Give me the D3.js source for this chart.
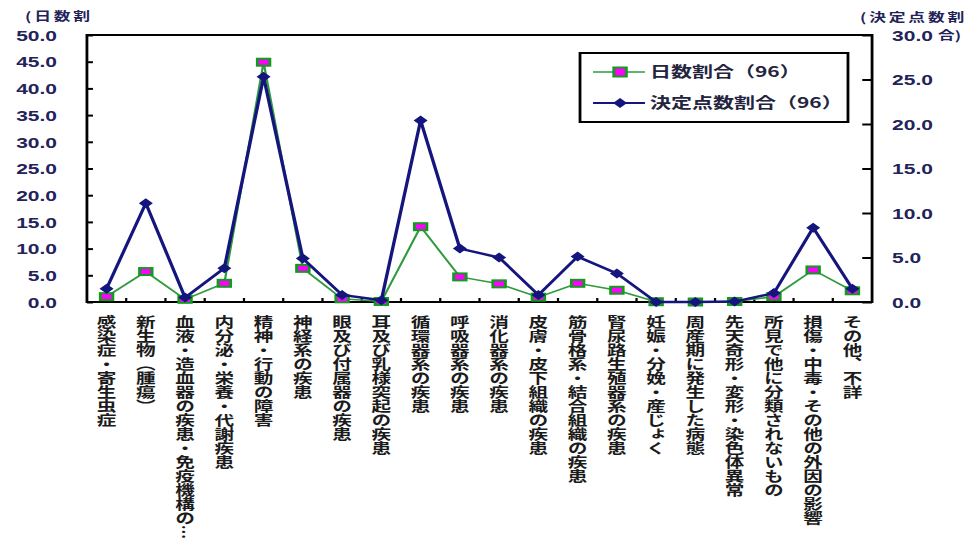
<!DOCTYPE html>
<html>
<head>
<meta charset="utf-8">
<script src="https://cdn.jsdelivr.net/npm/d3@7"></script>
<style>
  html, body { margin: 0; padding: 0; background: #fff; overflow: hidden; }
  svg { display: block; }
</style>
</head>
<body>
<svg id="chart" width="969" height="555"></svg>
<script>
// Disease categories (x axis)
const categories = [
  "感染症・寄生虫症",
  "新生物（腫瘍）",
  "血液・造血器の疾患・免疫機構の…",
  "内分泌・栄養・代謝疾患",
  "精神・行動の障害",
  "神経系の疾患",
  "眼及び付属器の疾患",
  "耳及び乳様突起の疾患",
  "循環器系の疾患",
  "呼吸器系の疾患",
  "消化器系の疾患",
  "皮膚・皮下組織の疾患",
  "筋骨格系・結合組織の疾患",
  "腎尿路生殖器系の疾患",
  "妊娠・分娩・産じょく",
  "周産期に発生した病態",
  "先天奇形・変形・染色体異常",
  "所見で他に分類されないもの",
  "損傷・中毒・その他の外因の影響",
  "その他、不詳"
];

// Share of days (left axis, %)
const dayShare = [1.0, 5.7, 0.5, 3.5, 44.9, 6.3, 0.6, 0.1, 14.1, 4.7,
                  3.4, 0.9, 3.5, 2.2, 0.05, 0.0, 0.1, 1.0, 6.0, 2.1];

// Share of assessed points (right axis, %)
const pointShare = [1.5, 11.1, 0.5, 3.8, 25.3, 4.9, 0.8, 0.2, 20.4, 6.0,
                    5.0, 0.8, 5.1, 3.2, 0.0, 0.0, 0.05, 1.0, 8.35, 1.5];

const leftTicks = [0, 5, 10, 15, 20, 25, 30, 35, 40, 45, 50];
const rightTicks = [0, 5, 10, 15, 20, 25, 30];
const seriesNames = ["日数割合（96）", "決定点数割合（96）"];
const leftTitle = "(日数割";
const rightTitle = "(決定点数割";
const rightTitleTail = "合)";

// The whole drawing is laid out in a narrower space and stretched horizontally.
const SX = 1.4;
const m = { left: 62.1, right: 622.9, top: 35, bottom: 302 };

const svg = d3.select("#chart");
svg.append("rect").attr("width", 969).attr("height", 555).attr("fill", "#fff");
const root = svg.append("g").attr("transform", `scale(${SX},1)`);

const x = d3.scaleBand().domain(categories).range([m.left, m.right]);
const cx = d => x(d) + x.bandwidth() / 2;
const yL = d3.scaleLinear().domain([0, 50]).range([m.bottom, m.top]);
const yR = d3.scaleLinear().domain([0, 30]).range([m.bottom, m.top]);

const tickColor = "#23235a";
const fmt = d3.format(".1f");

// Left axis
const gL = root.append("g").attr("transform", `translate(${m.left},0)`)
  .call(d3.axisLeft(yL).tickValues(leftTicks).tickSize(-4.3).tickFormat(fmt));
gL.select(".domain").remove();
gL.selectAll(".tick line").attr("stroke", "#000").attr("stroke-width", 2);
gL.selectAll(".tick text")
  .attr("x", -21.4).attr("dy", "0.35em")
  .attr("fill", tickColor)
  .style("font", "bold 15px 'Liberation Sans', Arial, sans-serif");

// Right axis
const gR = root.append("g").attr("transform", `translate(${m.right},0)`)
  .call(d3.axisRight(yR).tickValues(rightTicks).tickSize(-7).tickFormat(fmt));
gR.select(".domain").remove();
gR.selectAll(".tick line").attr("stroke", "#000").attr("stroke-width", 2);
gR.selectAll(".tick text")
  .attr("x", 14.3).attr("dy", "0.35em")
  .attr("fill", tickColor)
  .style("font", "bold 15px 'Liberation Sans', Arial, sans-serif");

// Category boundary ticks on the bottom axis
root.append("g").selectAll("line")
  .data(categories.slice(1))
  .join("line")
  .attr("x1", d => x(d)).attr("x2", d => x(d))
  .attr("y1", m.bottom).attr("y2", m.bottom - 4)
  .attr("stroke", "#000").attr("stroke-width", 1.6);

// Plot frame
root.append("rect")
  .attr("x", m.left).attr("y", m.top)
  .attr("width", m.right - m.left).attr("height", m.bottom - m.top)
  .attr("fill", "none").attr("stroke", "#000").attr("stroke-width", 2);

// Vertical category labels
root.append("g").selectAll("text")
  .data(categories)
  .join("text")
  .attr("x", d => cx(d))
  .attr("y", 315)
  .attr("fill", "#1b1b1b")
  .style("writing-mode", "vertical-rl")
  .style("font", "bold 14px 'Noto Sans CJK JP', sans-serif")
  .text(d => d);

// Series: share of days (green line, magenta squares)
const green = "#2f9b3c";
const navy = "#15157e";
const lineL = d3.line().x((d, i) => cx(categories[i])).y(d => yL(d));
const lineR = d3.line().x((d, i) => cx(categories[i])).y(d => yR(d));

root.append("path").datum(dayShare)
  .attr("d", lineL).attr("fill", "none")
  .attr("stroke", green).attr("stroke-width", 1.6);
root.append("g").selectAll("rect")
  .data(dayShare)
  .join("rect")
  .attr("x", (d, i) => cx(categories[i]) - 4.5)
  .attr("y", d => yL(d) - 3.5)
  .attr("width", 9).attr("height", 7)
  .attr("fill", "#ff00ff").attr("stroke", "#129a1e").attr("stroke-width", 2);

// Series: share of points (navy line, diamonds)
const diamond = d3.symbol().type(d3.symbolSquare).size(50);
root.append("path").datum(pointShare)
  .attr("d", lineR).attr("fill", "none")
  .attr("stroke", navy).attr("stroke-width", 2.4);
root.append("g").selectAll("path")
  .data(pointShare)
  .join("path")
  .attr("d", diamond)
  .attr("transform", (d, i) => `translate(${cx(categories[i])},${yR(d)}) rotate(45)`)
  .attr("fill", navy);

// Legend
const lg = root.append("g");
lg.append("rect")
  .attr("x", 414.3).attr("y", 53).attr("width", 191.4).attr("height", 69)
  .attr("fill", "#fff").attr("stroke", "#000").attr("stroke-width", 2);
const legendRows = [
  { name: seriesNames[0], y: 72, color: green },
  { name: seriesNames[1], y: 103, color: navy }
];
legendRows.forEach((r, k) => {
  lg.append("line")
    .attr("x1", 423.6).attr("x2", 460.7).attr("y1", r.y).attr("y2", r.y)
    .attr("stroke", r.color).attr("stroke-width", k === 0 ? 1.6 : 2);
  if (k === 0) {
    lg.append("rect").attr("x", 442.9 - 4.5).attr("y", r.y - 4.5)
      .attr("width", 9).attr("height", 9)
      .attr("fill", "#ff00ff").attr("stroke", "#129a1e").attr("stroke-width", 2);
  } else {
    lg.append("path").attr("d", diamond)
      .attr("transform", `translate(442.9,${r.y}) rotate(45)`)
      .attr("fill", navy);
  }
  lg.append("text")
    .attr("x", 464.3).attr("y", r.y).attr("dy", "0.36em")
    .attr("fill", "#24243e")
    .style("font", "bold 15px 'Noto Sans CJK JP', sans-serif")
    .text(r.name);
});

// Axis titles
const titleFont = "bold 12px 'Noto Sans CJK JP', sans-serif";
root.append("text").attr("x", 17.9).attr("y", 17).attr("dy", "0.36em")
  .attr("fill", tickColor).style("font", titleFont).style("letter-spacing", "2px")
  .text(leftTitle);
root.append("text").attr("x", 614.3).attr("y", 18).attr("dy", "0.36em")
  .attr("fill", tickColor).style("font", titleFont).style("letter-spacing", "2px")
  .text(rightTitle);
root.append("text").attr("x", 670).attr("y", yR(30) + 1).attr("dy", "0.36em")
  .attr("fill", tickColor).style("font", titleFont)
  .text(rightTitleTail);
</script>
</body>
</html>
